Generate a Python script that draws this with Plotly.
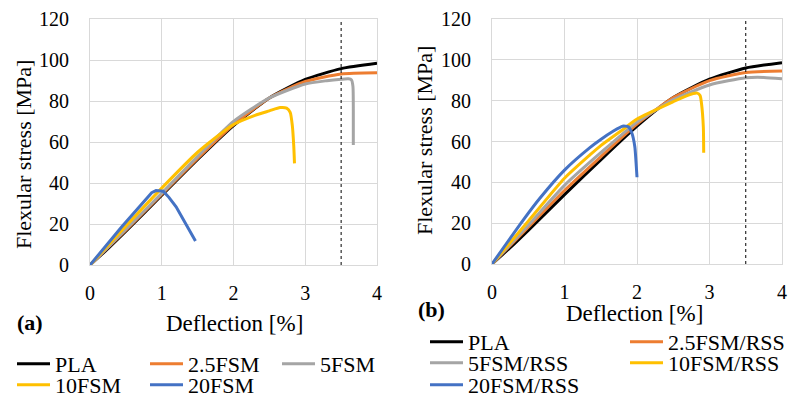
import plotly.graph_objects as go

W, H = 792, 397
FONT = "Liberation Serif"

# ---------------- data (a) ----------------
a_pla_x = [0, 0.25, 0.5, 1.0, 1.5, 2.0, 2.5, 3.0, 3.5, 4.0]
a_pla_y = [0, 8, 16.5, 34, 51.5, 68, 81.5, 90.5, 95.8, 98.4]
a_25_x = [0, 0.5, 1, 1.5, 2, 2.5, 3, 3.5, 4]
a_25_y = [0, 17, 34.5, 52, 68.5, 81.5, 89.5, 93.2, 93.8]
a_5_x = [0, 0.5, 1, 1.5, 2, 2.5, 3, 3.3, 3.5, 3.6, 3.645, 3.665, 3.67, 3.67]
a_5_y = [0, 17.5, 35, 53, 70, 81.5, 88.3, 89.9, 90.6, 90.8, 90.3, 87, 75, 58.5]
a_10_x = [0, 0.5, 1, 1.5, 2, 2.3, 2.5, 2.65, 2.74, 2.79, 2.82, 2.84, 2.85]
a_10_y = [0, 19, 37.5, 55, 68.5, 73, 75.2, 76.8, 76.5, 74.5, 68, 58, 49.6]
a_20_x = [0, 0.44, 0.86, 0.92, 1.02, 1.1, 1.2, 1.47]
a_20_y = [0, 18.5, 35.3, 36.3, 36, 33, 28.4, 11.7]

# ---------------- data (b) ----------------
b_pla_x = [0, 0.25, 0.5, 1, 1.5, 2, 2.5, 3, 3.5, 4]
b_pla_y = [0, 8, 16.5, 34, 51, 67.5, 81.5, 90.5, 96, 98.6]
b_25_x = [0, 0.5, 1, 1.5, 2, 2.5, 3, 3.5, 4]
b_25_y = [0, 18, 36, 52.5, 68.5, 81.5, 89.8, 93.8, 94.5]
b_5_x = [0, 0.5, 1, 1.5, 2, 2.5, 3, 3.5, 3.75, 4]
b_5_y = [0, 19, 38.5, 54.5, 69.5, 80.5, 87.7, 91.2, 91.4, 90.7]
b_10_x = [0, 0.5, 1, 1.35, 1.5, 1.81, 2, 2.5, 2.7, 2.83, 2.87, 2.89, 2.915, 2.92]
b_10_y = [0, 21, 42, 53.4, 58, 66, 71, 79.5, 82.6, 83.7, 82.5, 78.5, 67, 54.5]
b_20_x = [0, 0.43, 0.66, 1, 1.35, 1.5, 1.67, 1.8, 1.88, 1.93, 1.97, 1.99, 2.0]
b_20_y = [0, 21.5, 32.2, 46, 57, 61, 65, 67.5, 67.2, 64, 57.4, 48, 42.5]

names_a = ["PLA", "2.5FSM", "5FSM", "10FSM", "20FSM"]
names_b = ["PLA", "2.5FSM/RSS", "5FSM/RSS", "10FSM/RSS", "20FSM/RSS"]
colors = ["#000000", "#ED7D31", "#A5A5A5", "#FFC000", "#4472C4"]
x_ticks = [0, 1, 2, 3, 4]
y_ticks = [0, 20, 40, 60, 80, 100, 120]
limit_deflection = 3.5

series_a = [(a_pla_x, a_pla_y), (a_25_x, a_25_y), (a_5_x, a_5_y), (a_10_x, a_10_y), (a_20_x, a_20_y)]
series_b = [(b_pla_x, b_pla_y), (b_25_x, b_25_y), (b_5_x, b_5_y), (b_10_x, b_10_y), (b_20_x, b_20_y)]

# legend cell positions (pixel left of line sample, pixel row centre)
leg_pos_a = [(12, 364), (145, 364), (277, 364), (12, 385), (145, 385)]
leg_pos_b = [(425, 342), (625, 342), (425, 363), (625, 363), (425, 385)]

fig = go.Figure()
for i, (xs, ys) in enumerate(series_a):
    fig.add_trace(go.Scatter(
        x=xs, y=ys, mode="lines", name=names_a[i], xaxis="x", yaxis="y",
        line=dict(color=colors[i], width=3, shape="linear" if i == 4 else "spline", smoothing=0.6),
        legend="legend" if i == 0 else f"legend{i + 1}"))
for i, (xs, ys) in enumerate(series_b):
    fig.add_trace(go.Scatter(
        x=xs, y=ys, mode="lines", name=names_b[i], xaxis="x2", yaxis="y2",
        line=dict(color=colors[i], width=3, shape="spline", smoothing=0.6),
        legend=f"legend{i + 6}"))

def px_x(p):
    return p / W

def px_y(p):
    return (H - p) / H

grid = "#d9d9d9"
axis_common = dict(showgrid=True, gridcolor=grid, gridwidth=1, zeroline=False,
                   showline=True, linecolor=grid, linewidth=1, mirror=True, ticks="",
                   tickfont=dict(family=FONT, size=20, color="#000"))

fig.update_layout(
    width=W, height=H, margin=dict(l=0, r=0, t=0, b=0, autoexpand=False),
    paper_bgcolor="white", plot_bgcolor="white",
    font=dict(family=FONT, size=22, color="#000"),
    xaxis=dict(domain=[px_x(90), px_x(377)], range=[0, 4], tickvals=x_ticks, anchor="y",
               ticklabelstandoff=10, **axis_common),
    yaxis=dict(domain=[px_y(265), px_y(19)], range=[0, 120], tickvals=y_ticks, anchor="x",
               ticklabelstandoff=16, **axis_common),
    xaxis2=dict(domain=[px_x(492), px_x(782)], range=[0, 4], tickvals=x_ticks, anchor="y2",
                ticklabelstandoff=10, **axis_common),
    yaxis2=dict(domain=[px_y(264), px_y(19)], range=[0, 120], tickvals=y_ticks, anchor="x2",
                ticklabelstandoff=16, **axis_common),
    showlegend=True,
)

leg_common = dict(orientation="h", xanchor="left", yanchor="middle", bgcolor="rgba(0,0,0,0)",
                  font=dict(family=FONT, size=22, color="#000"), itemwidth=33,
                  tracegroupgap=0)
legends = {}
for k, (lx, ly) in enumerate(leg_pos_a + leg_pos_b):
    key = "legend" if k == 0 else f"legend{k + 1}"
    legends[key] = dict(x=px_x(lx), y=px_y(ly), **leg_common)
fig.update_layout(**legends)

for xr, yr in (("x", "y domain"), ("x2", "y2 domain")):
    fig.add_shape(type="line", xref=xr, yref=yr, x0=limit_deflection, x1=limit_deflection,
                  y0=0, y1=1, line=dict(color="#000", width=1, dash="3px,3px"))

ann = [
    dict(text="Flexular stress [MPa]", x=px_x(23), y=px_y(155), textangle=-90, size=22),
    dict(text="Flexular stress [MPa]", x=px_x(424), y=px_y(141), textangle=-90, size=22),
    dict(text="Deflection [%]", x=px_x(234), y=px_y(323), size=23),
    dict(text="Deflection [%]", x=px_x(634), y=px_y(313), size=23),
    dict(text="<b>(a)</b>", x=px_x(30), y=px_y(322), size=22),
    dict(text="<b>(b)</b>", x=px_x(431), y=px_y(309), size=22),
]
for a in ann:
    size = a.pop("size")
    fig.add_annotation(xref="paper", yref="paper", xanchor="center", yanchor="middle",
                       showarrow=False, font=dict(family=FONT, size=size, color="#000"), **a)

fig.write_html("out.html")
